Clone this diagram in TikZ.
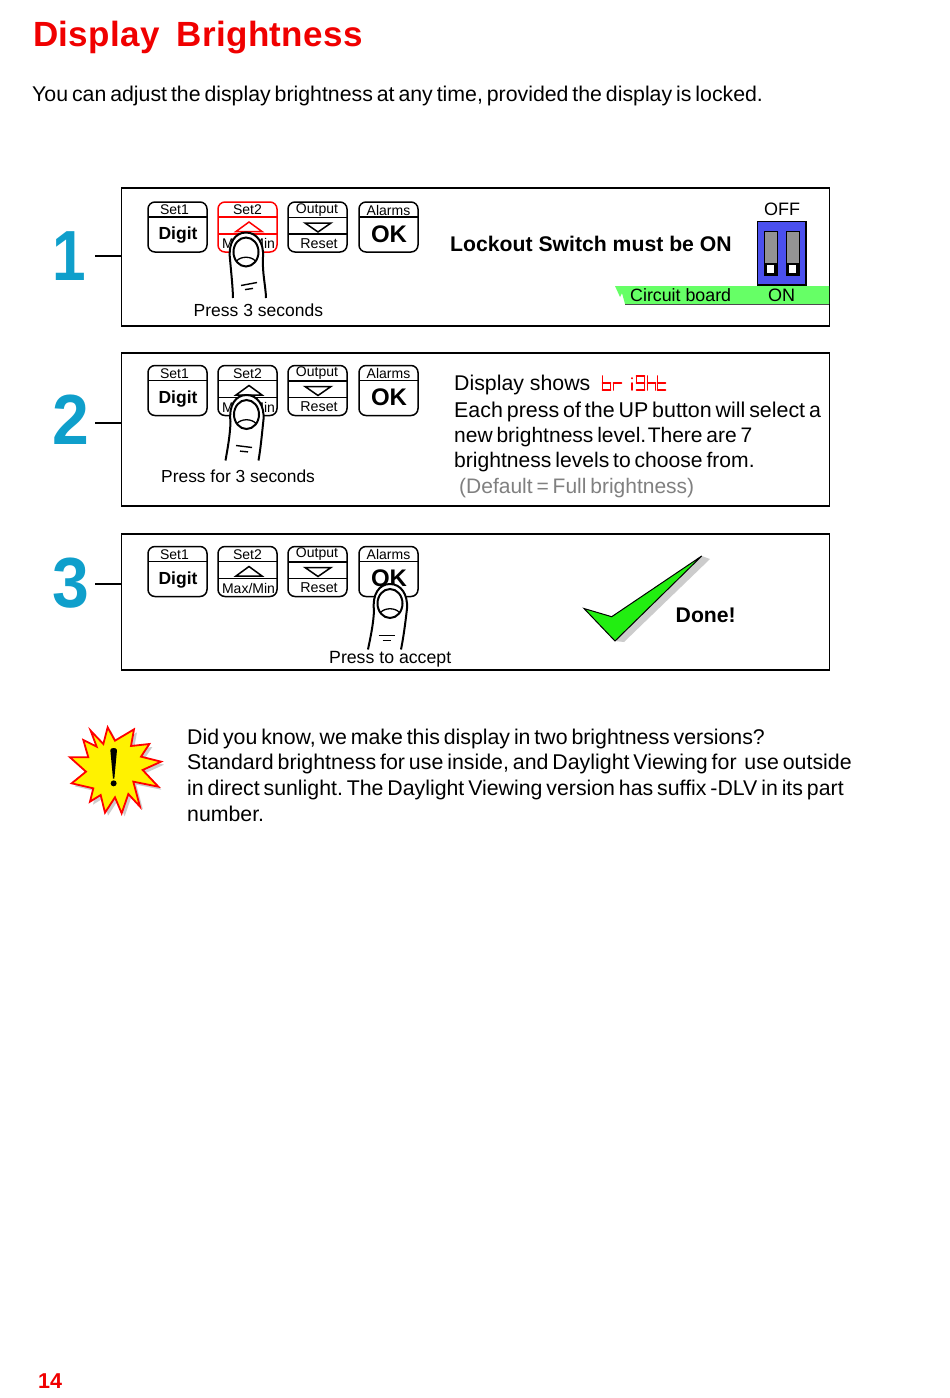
\documentclass[tikz,border=0pt]{standalone}
\usepackage{fontspec}
\setmainfont[WordSpace=0.66]{Liberation Sans}
\newfontfamily\plainfont{Liberation Sans}
\newfontfamily\spacedbold[LetterSpace=1.0]{Liberation Sans Bold}
\definecolor{numblue}{HTML}{0F9FCB}
\definecolor{titlered}{HTML}{F00000}
\definecolor{boardgreen}{HTML}{66FF66}
\definecolor{switchblue}{HTML}{4B50EE}
\definecolor{checkgreen}{HTML}{22EE11}
\definecolor{softgrey}{HTML}{CCCCCC}
\newcommand{\fs}[1]{\fontsize{#1}{#1}\selectfont\frenchspacing}
\tikzset{
  txt/.style={inner sep=0pt,anchor=west,text=black},
  ctr/.style={inner sep=0pt,anchor=center,text=black},
  panel/.style={draw=black,line width=1.8pt,fill=white,minimum width=708pt,inner sep=0pt,anchor=north west,outer sep=0pt},
  btnline/.style={draw=black,line width=1.5pt},
  fingerline/.style={draw=black,line width=2pt},
  seg/.style={draw=red,line width=1.8pt,line cap=round},
  tick/.style={draw=black,line width=1.3pt},
  bignum/.style={ctr,text=numblue,font=\fs{71}\plainfont\bfseries,transform shape},
}
\newcommand{\btnframe}[4]{%
  \draw[#4,line width=1.5pt,rounded corners=7pt] (#2,#3) rectangle ++(59,50);
  \coordinate (#1) at (#2+29.5,#3);
}
\newcommand{\btnSetOne}[3]{%
  \btnframe{#1}{#2}{#3}{black}
  \draw[btnline] (#2,#3+15) -- ++(59,0);
  \node[ctr,font=\fs{14}] (#1t) at (#2+26.5,#3+8) {Set1};
  \node[ctr,font=\fs{17.5}\bfseries] (#1b) at (#2+30,#3+33.5) {Digit};
}
\newcommand{\btnAlarm}[3]{%
  \btnframe{#1}{#2}{#3}{black}
  \draw[btnline] (#2,#3+15) -- ++(59,0);
  \node[ctr,font=\fs{14}] (#1t) at (#2+29.5,#3+8) {Alarms};
  \node[ctr,font=\fs{24}\bfseries] (#1b) at (#2+30,#3+32) {OK};
}
\newcommand{\btnOut}[3]{%
  \btnframe{#1}{#2}{#3}{black}
  \draw[btnline] (#2,#3+15.5) -- ++(59,0);
  \draw[btnline] (#2,#3+32) -- ++(59,0);
  \draw[btnline] (#2+17,#3+21) -- ++(26,0) -- ++(-13,9) -- cycle;
  \node[ctr,font=\fs{14}] (#1t) at (#2+29,#3+8) {Output};
  \node[ctr,font=\fs{14.3}] (#1b) at (#2+31,#3+41.5) {Reset};
}
\newcommand{\btnUp}[4]{%
  \btnframe{#1}{#2}{#3}{#4}
  \draw[#4,line width=1.5pt] (#2,#3+15) -- ++(59,0);
  \draw[#4,line width=1.5pt] (#2,#3+32) -- ++(59,0);
  \draw[#4,line width=1.5pt] (#2+18,#3+29.5) -- ++(26,0) -- ++(-13,-9.5) -- cycle;
  \node[ctr,font=\fs{14}] (#1t) at (#2+29.5,#3+8) {Set2};
  \node[ctr,font=\fs{14}] (#1b) at (#2+30.5,#3+41.5) {Max/Min};
}
% finger: nail centre x, y, lean, wrinkle x offset, wrinkle slope
\newcommand{\finger}[5]{%
  \begin{scope}[shift={(#1,#2)}]
    \filldraw[fingerline,fill=white] (-14+#3,47) .. controls (-14+#3*.7,35) and (-15+#3*.2,22) .. (-16,8)
      .. controls (-18,-8) and (-11,-18.5) .. (0,-18.5)
      .. controls (11,-18.5) and (18,-8) .. (17,6)
      .. controls (16+#3*.1,22) and (19+#3*.7,35) .. (19+#3,47);
    \draw[fingerline] (0,1) ellipse (12.5 and 14.5);
    \draw[draw=black,line width=1.3pt] (-9.5,10) .. controls (-5,5) and (5,5) .. (9.5,10);
    \draw[draw=black,line width=1.4pt] (#4-8,33+#5) -- (#4+8,33-#5);
    \draw[draw=black,line width=1.4pt] (#4-4,38+.4*#5) -- (#4+4,38-.4*#5);
  \end{scope}
}
\newcommand{\segA}[2]{\draw[seg] (#1,#2) -- ++(8,0);}
\newcommand{\segB}[2]{\draw[seg] (#1+8,#2) -- ++(0,7);}
\newcommand{\segC}[2]{\draw[seg] (#1+8,#2+7) -- ++(0,7);}
\newcommand{\segD}[2]{\draw[seg] (#1,#2+14) -- ++(8,0);}
\newcommand{\segE}[2]{\draw[seg] (#1,#2+7) -- ++(0,7);}
\newcommand{\segF}[2]{\draw[seg] (#1,#2) -- ++(0,7);}
\newcommand{\segG}[2]{\draw[seg] (#1,#2+7) -- ++(8,0);}
\begin{document}
\begin{tikzpicture}[x=1pt,y=-1pt]
\useasboundingbox[fill=white] (0,0) rectangle (950,1398);

\node[txt,text=titlered,font=\fs{35}\spacedbold] (title) at (33,38) {Display\hspace{17pt}Brightness};
\node[txt,font=\fs{21.3}] (intro) at (32,96) {You can adjust the display brightness at any time, provided the display is locked.};

% panels
\node[panel,minimum height=138pt] (box1) at (121.5,188) {};
\node[panel,minimum height=153pt] (box2) at (121.5,353) {};
\node[panel,minimum height=136pt] (box3) at (121.5,534) {};

% numbers
\node[bignum,xscale=.85] (num1) at (69.5,256.5) {1};
\node[bignum,xscale=.93] (num2) at (71,420) {2};
\node[bignum,xscale=.93] (num3) at (71,583) {3};
\coordinate (t1) at (95,256);
\coordinate (t2) at (95,423);
\coordinate (t3) at (95,584);
\draw[tick] (t1) -- (t1 -| box1.west);
\draw[tick] (t2) -- (t2 -| box2.west);
\draw[tick] (t3) -- (t3 -| box3.west);

% row 1
\btnSetOne{aa}{148}{202}
\btnUp{ab}{218}{202}{red}
\btnOut{ac}{288}{202}
\btnAlarm{ad}{359}{202}
\finger{246}{251}{1}{3}{1.5}
\node[txt,font=\fs{17.5}\plainfont] (p1) at (193.5,310) {Press 3 seconds};
\node[txt,font=\fs{21.2}\plainfont\bfseries] (lock) at (450,244) {Lockout Switch must be ON};
\node[ctr,font=\fs{18}] (off) at (782,209) {OFF};
\fill[boardgreen] (615,286) -- (620,297) -- (622,293) -- (625,304) -- (829,304) -- (829,286) -- cycle;
\draw[draw=black!70,line width=.6pt] (625,304) -- (829,304);
\draw[draw=black,line width=1.5pt,fill=switchblue] (757.5,221.5) rectangle (806,285);
\draw[draw=black,line width=1pt,fill=gray!85] (764.5,231) rectangle (777,275);
\draw[draw=black,line width=1pt,fill=gray!85] (786.5,231) rectangle (799,275);
\fill[black] (764.5,263) rectangle (777,275);
\fill[black] (786.5,263) rectangle (799,275);
\fill[white] (767,264.5) rectangle (774,272.5);
\fill[white] (789,264.5) rectangle (796,272.5);
\node[txt,font=\fs{17.8}\plainfont] (board) at (630,295.5) {Circuit board};
\node[ctr,font=\fs{18}] (on) at (781.5,295.5) {ON};

% row 2
\btnSetOne{ba}{148}{365.5}
\btnUp{bb}{218}{365.5}{black}
\btnOut{bc}{288}{365.5}
\btnAlarm{bd}{359}{365.5}
\finger{246.5}{413.5}{-7}{-2.5}{-1}
\node[txt,font=\fs{17.4}\plainfont] (p2) at (161,476) {Press for 3 seconds};
\node[txt,font=\fs{21.3}\plainfont] (l1) at (454,384.5) {Display shows};
\node[txt,font=\fs{21.4}] (l2) at (454,412) {Each press of the UP button will select a};
\node[txt,font=\fs{21}] (l3) at (454,437.5) {new brightness level.\hspace{1.5pt}There are 7};
\node[txt,font=\fs{21.1}] (l4) at (454,462.5) {brightness levels to choose from.};
\node[txt,font=\fs{21},text=gray] (l5) at (459,488.5) {(Default = Full brightness)};
% b
\segF{602.5}{376}\segE{602.5}{376}\segG{602.5}{376}\segC{602.5}{376}\segD{602.5}{376}
% r
\segE{613.5}{376}\segG{613.5}{376}
% i
\draw[seg] (632,383) -- ++(0,7);
\draw[seg] (632,378) -- ++(0,.5);
% g
\segA{636.5}{376}\segB{636.5}{376}\segC{636.5}{376}\segD{636.5}{376}\segF{636.5}{376}\segG{636.5}{376}
% h
\segF{647.5}{376}\segE{647.5}{376}\segG{647.5}{376}\segC{647.5}{376}
% t
\segF{657.5}{376}\segE{657.5}{376}\segG{657.5}{376}\segD{657.5}{376}

% row 3
\btnSetOne{ca}{148}{546.5}
\btnUp{cb}{218}{546.5}{black}
\btnOut{cc}{288}{546.5}
\btnAlarm{cd}{359}{546.5}
\finger{390}{602.5}{-8}{-3.5}{0}
\node[txt,font=\fs{17.7}\plainfont] (p3) at (329,659) {Press to accept};
\fill[softgrey] (701.7,556) -- (710,559) -- (624,642) -- (615,641) -- cycle;
\draw[draw=black,line width=1pt,fill=checkgreen,line join=miter] (584,608.5) -- (611.7,616.7) -- (701.7,556) -- (615,641) -- cycle;
\node[txt,font=\fs{21.2}\plainfont\bfseries] (done) at (675.5,615) {Done!};

% note
\begin{scope}[shift={(60,720)},x=.3333pt,y=-.3333pt]
  \fill[softgrey,shift={(9,9)}] (143,22) -- (165,62) -- (222,28) -- (213,78) -- (268,72) -- (243,110) -- (303,125) -- (248,150) -- (295,200) -- (220,185) -- (240,260) -- (205,222) -- (185,280) -- (165,232) -- (135,278) -- (122,225) -- (90,245) -- (100,205) -- (35,190) -- (78,155) -- (30,112) -- (85,112) -- (70,60) -- (110,80) -- (92,32) -- (130,72) -- cycle;
  \draw[draw=red,line width=1.8pt,fill=yellow,line join=miter] (143,22) -- (165,62) -- (222,28) -- (213,78) -- (268,72) -- (243,110) -- (303,125) -- (248,150) -- (295,200) -- (220,185) -- (240,260) -- (205,222) -- (185,280) -- (165,232) -- (135,278) -- (122,225) -- (90,245) -- (100,205) -- (35,190) -- (78,155) -- (30,112) -- (85,112) -- (70,60) -- (110,80) -- (92,32) -- (130,72) -- cycle;
  \fill[black] (151,90) .. controls (152,82) and (170,82) .. (171,90) -- (163,176) -- (159,176) -- cycle;
  \fill[black] (161,190) circle (9);
\end{scope}
\node[txt,font=\fs{21.3}] (n1) at (187,739) {Did you know, we make this display in two brightness versions?};
\node[txt,font=\fs{21.35}] (n2) at (187,764) {Standard brightness for use inside, and Daylight Viewing for\ \ use outside};
\node[txt,font=\fs{21.3}] (n3) at (187,790) {in direct sunlight. The Daylight Viewing version has suffix -DLV in its part};
\node[txt,font=\fs{21.3}] (n4) at (187,813.5) {number.};

\node[txt,text=titlered,font=\fs{21.5}\bfseries] (page) at (38,1381.5) {14};
\end{tikzpicture}
\end{document}
